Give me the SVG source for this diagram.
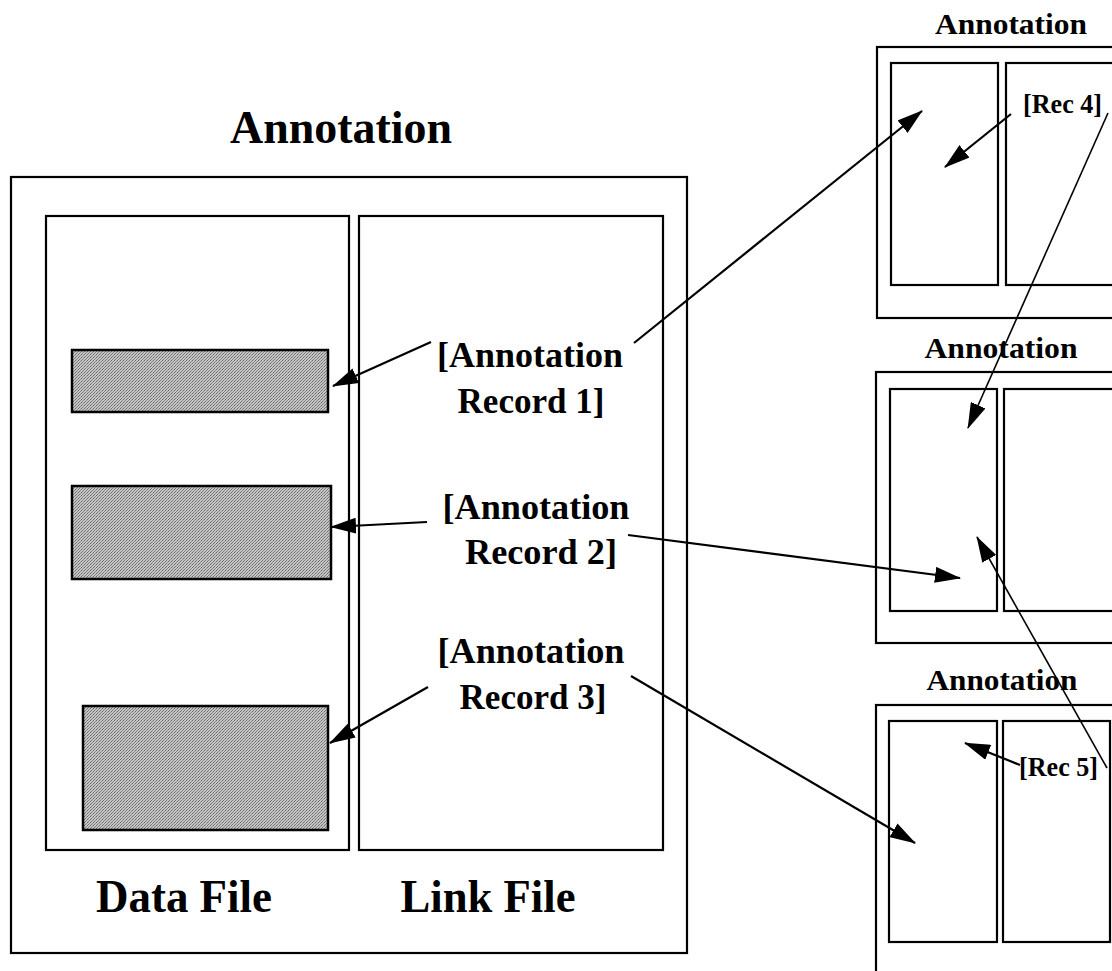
<svg xmlns="http://www.w3.org/2000/svg" width="1112" height="971" viewBox="0 0 1112 971">
<defs>
<style>
.box{fill:none;stroke:#000;stroke-width:2.2}
.shade{fill:url(#dither);stroke:#000;stroke-width:2.5}
.t{font-family:"Liberation Serif","Times New Roman",serif;font-weight:bold;fill:#000}
.c{stroke:#000;stroke-width:2.2;fill:none}
.thin{stroke:#000;stroke-width:1.6;fill:none}
</style>
<pattern id="dither" width="3" height="3" patternUnits="userSpaceOnUse">
<rect width="3" height="3" fill="#c4c4c4"/>
<rect x="0" y="0" width="1" height="1" fill="#6a6a6a"/>
<rect x="2" y="1" width="1" height="1" fill="#8a8a8a"/>
<rect x="1" y="2" width="1" height="1" fill="#7a7a7a"/>
</pattern>
<marker id="ah" viewBox="0 0 26 16" refX="25" refY="8" markerWidth="26" markerHeight="16" markerUnits="userSpaceOnUse" orient="auto">
<path d="M0,0 L26,8 L0,16 z" fill="#000"/>
</marker>
</defs>
<rect width="1112" height="971" fill="#fff"/>

<g id="main-annotation">
<text class="t" x="341" y="143" font-size="46" text-anchor="middle" textLength="222" lengthAdjust="spacingAndGlyphs">Annotation</text>
<rect class="box" x="11" y="177" width="676" height="776"/>
</g>

<g id="data-file">
<rect class="box" x="46" y="216" width="303" height="634"/>
<text class="t" x="184" y="912" font-size="46" text-anchor="middle" textLength="176" lengthAdjust="spacingAndGlyphs">Data File</text>
</g>

<g id="data-block-1"><rect class="shade" x="72" y="350" width="256" height="62"/></g>
<g id="data-block-2"><rect class="shade" x="72" y="486" width="259" height="93"/></g>
<g id="data-block-3"><rect class="shade" x="83" y="706" width="245" height="124"/></g>

<g id="link-file">
<rect class="box" x="359" y="216" width="304" height="634"/>
<text class="t" x="488" y="912" font-size="46" text-anchor="middle" textLength="175" lengthAdjust="spacingAndGlyphs">Link File</text>
</g>

<g id="record-1">
<text class="t" x="530" y="367" font-size="35" text-anchor="middle" textLength="186" lengthAdjust="spacingAndGlyphs">[Annotation</text>
<text class="t" x="531" y="413" font-size="35" text-anchor="middle" textLength="147" lengthAdjust="spacingAndGlyphs">Record 1]</text>
</g>
<g id="record-2">
<text class="t" x="536" y="519" font-size="35" text-anchor="middle" textLength="187" lengthAdjust="spacingAndGlyphs">[Annotation</text>
<text class="t" x="541" y="564" font-size="35" text-anchor="middle" textLength="152" lengthAdjust="spacingAndGlyphs">Record 2]</text>
</g>
<g id="record-3">
<text class="t" x="531" y="663" font-size="35" text-anchor="middle" textLength="187" lengthAdjust="spacingAndGlyphs">[Annotation</text>
<text class="t" x="533" y="709" font-size="35" text-anchor="middle" textLength="147" lengthAdjust="spacingAndGlyphs">Record 3]</text>
</g>

<g id="annotation-top">
<text class="t" x="1011" y="34" font-size="30" text-anchor="middle" textLength="152" lengthAdjust="spacingAndGlyphs">Annotation</text>
<rect class="box" x="877" y="47" width="250" height="271"/>
<rect class="box" x="891" y="63" width="107" height="222"/>
<rect class="box" x="1006" y="63" width="110" height="222"/>
<text class="t" x="1023" y="113" font-size="27" textLength="79" lengthAdjust="spacingAndGlyphs">[Rec 4]</text>
</g>

<g id="annotation-middle">
<text class="t" x="1001" y="358" font-size="30" text-anchor="middle" textLength="153" lengthAdjust="spacingAndGlyphs">Annotation</text>
<rect class="box" x="876" y="372" width="250" height="271"/>
<rect class="box" x="890" y="389" width="107" height="222"/>
<rect class="box" x="1004" y="389" width="112" height="222"/>
</g>

<g id="annotation-bottom">
<text class="t" x="1002" y="690" font-size="30" text-anchor="middle" textLength="151" lengthAdjust="spacingAndGlyphs">Annotation</text>
<rect class="box" x="876" y="705" width="250" height="290"/>
<rect class="box" x="889" y="721" width="108" height="221"/>
<rect class="box" x="1003" y="721" width="107" height="221"/>
<text class="t" x="1019" y="776" font-size="27" textLength="79" lengthAdjust="spacingAndGlyphs">[Rec 5]</text>
</g>

<g id="connectors">
<line class="c" x1="431" y1="342" x2="333" y2="386" marker-end="url(#ah)"/>
<line class="c" x1="634" y1="343" x2="922" y2="111" marker-end="url(#ah)"/>
<line class="c" x1="427" y1="522" x2="331" y2="527" marker-end="url(#ah)"/>
<line class="c" x1="628" y1="535" x2="960" y2="578" marker-end="url(#ah)"/>
<line class="c" x1="428" y1="687" x2="330" y2="743" marker-end="url(#ah)"/>
<line class="c" x1="631" y1="676" x2="915" y2="843" marker-end="url(#ah)"/>
<line class="c" x1="1011" y1="114" x2="945" y2="167" marker-end="url(#ah)"/>
<line class="thin" x1="1108" y1="113" x2="968" y2="428" marker-end="url(#ah)"/>
<line class="thin" x1="1107" y1="768" x2="977" y2="537" marker-end="url(#ah)"/>
<line class="c" x1="1020" y1="765" x2="965" y2="743" marker-end="url(#ah)"/>
</g>
</svg>
